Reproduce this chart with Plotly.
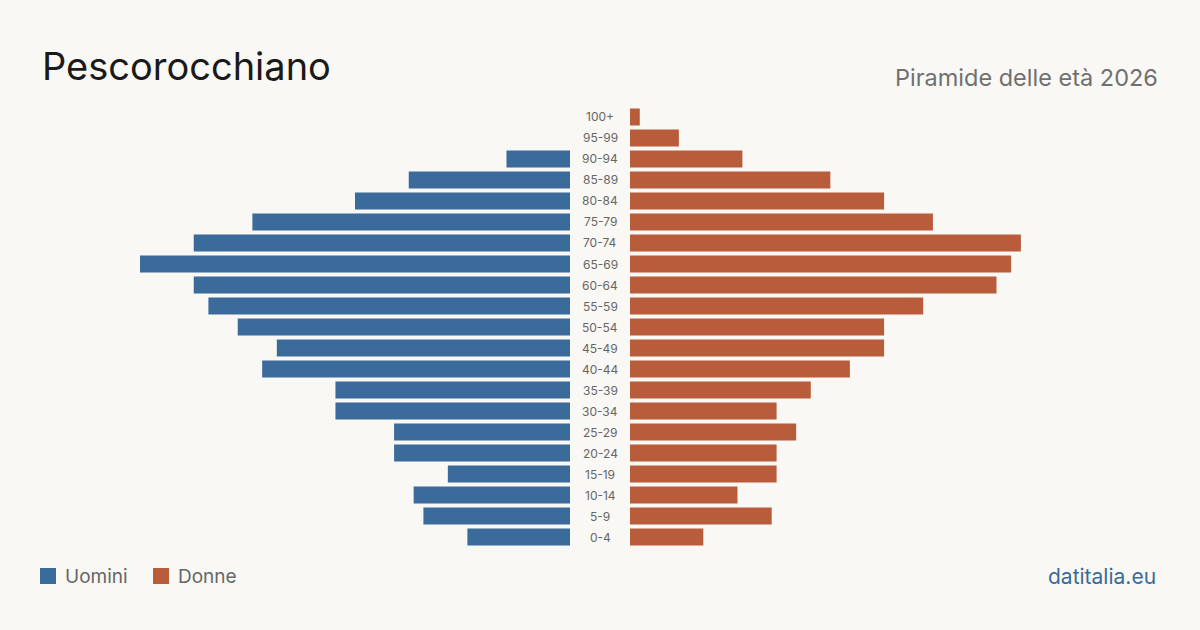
import plotly.graph_objects as go

age_groups = ["0-4", "5-9", "10-14", "15-19", "20-24", "25-29", "30-34", "35-39",
              "40-44", "45-49", "50-54", "55-59", "60-64", "65-69", "70-74",
              "75-79", "80-84", "85-89", "90-94", "95-99", "100+"]
men = [21, 30, 32, 25, 36, 36, 48, 48, 63, 60, 68, 74, 77, 88, 77, 65, 44, 33, 13, 0, 0]
women = [15, 29, 22, 30, 30, 34, 30, 37, 45, 52, 52, 60, 75, 78, 80, 62, 52, 41, 23, 10, 2]

BG = "#f9f8f4"
BLUE = "#3a6b9a"
ORANGE = "#b95c3c"
W, H = 1200, 630
xmax = max(max(men), max(women))

ypos = list(range(len(age_groups)))

fig = go.Figure()
fig.add_trace(go.Bar(x=men, y=ypos, orientation="h", marker=dict(color=BLUE, line=dict(width=0)),
                     xaxis="x", yaxis="y", width=17/21, name="Uomini", showlegend=False))
fig.add_trace(go.Bar(x=women, y=ypos, orientation="h", marker=dict(color=ORANGE, line=dict(width=0)),
                     xaxis="x2", yaxis="y", width=17/21, name="Donne", showlegend=False))

y0 = (H - 547.5) / H
y1 = (H - 106.5) / H

annotations = []
for i, g in enumerate(age_groups):
    annotations.append(dict(x=600 / W, y=i, xref="paper", yref="y", text=g, showarrow=False,
                            xanchor="center", yanchor="middle",
                            font=dict(family="Inter, sans-serif", size=12, color="#666666")))

annotations += [
    dict(x=40 / W, y=1 - 66 / H, xref="paper", yref="paper", text="Pescorocchiano", showarrow=False,
         xanchor="left", yanchor="middle", font=dict(family="Inter, sans-serif", size=38, color="#1a1a1a")),
    dict(x=1160 / W, y=1 - 77 / H, xref="paper", yref="paper", text="Piramide delle età 2026", showarrow=False,
         xanchor="right", yanchor="middle", font=dict(family="Inter, sans-serif", size=23.5, color="#707070")),
    dict(x=63 / W, y=1 - 576 / H, xref="paper", yref="paper", text="Uomini", showarrow=False,
         xanchor="left", yanchor="middle", font=dict(family="Inter, sans-serif", size=19, color="#666666")),
    dict(x=176 / W, y=1 - 576 / H, xref="paper", yref="paper", text="Donne", showarrow=False,
         xanchor="left", yanchor="middle", font=dict(family="Inter, sans-serif", size=19, color="#666666")),
    dict(x=1158 / W, y=1 - 576 / H, xref="paper", yref="paper", text="datitalia.eu", showarrow=False,
         xanchor="right", yanchor="middle", font=dict(family="Inter, sans-serif", size=21, color=BLUE)),
]

shapes = [
    dict(type="rect", xref="paper", yref="paper", x0=40 / W, x1=56 / W, y0=1 - 584 / H, y1=1 - 568 / H,
         fillcolor=BLUE, line=dict(width=0)),
    dict(type="rect", xref="paper", yref="paper", x0=153 / W, x1=169 / W, y0=1 - 584 / H, y1=1 - 568 / H,
         fillcolor=ORANGE, line=dict(width=0)),
]

fig.update_layout(
    width=W, height=H,
    margin=dict(l=0, r=0, t=0, b=0),
    paper_bgcolor=BG, plot_bgcolor=BG,
    barmode="overlay",
    xaxis=dict(domain=[140 / W, 570 / W], range=[xmax, 0], visible=False, fixedrange=True),
    xaxis2=dict(domain=[630 / W, 1060 / W], range=[0, xmax], visible=False, anchor="y", fixedrange=True),
    yaxis=dict(domain=[y0, y1], range=[-0.5, len(age_groups) - 0.5], visible=False, fixedrange=True),
    annotations=annotations,
    shapes=shapes,
    showlegend=False,
)

fig.write_html("out.html")
